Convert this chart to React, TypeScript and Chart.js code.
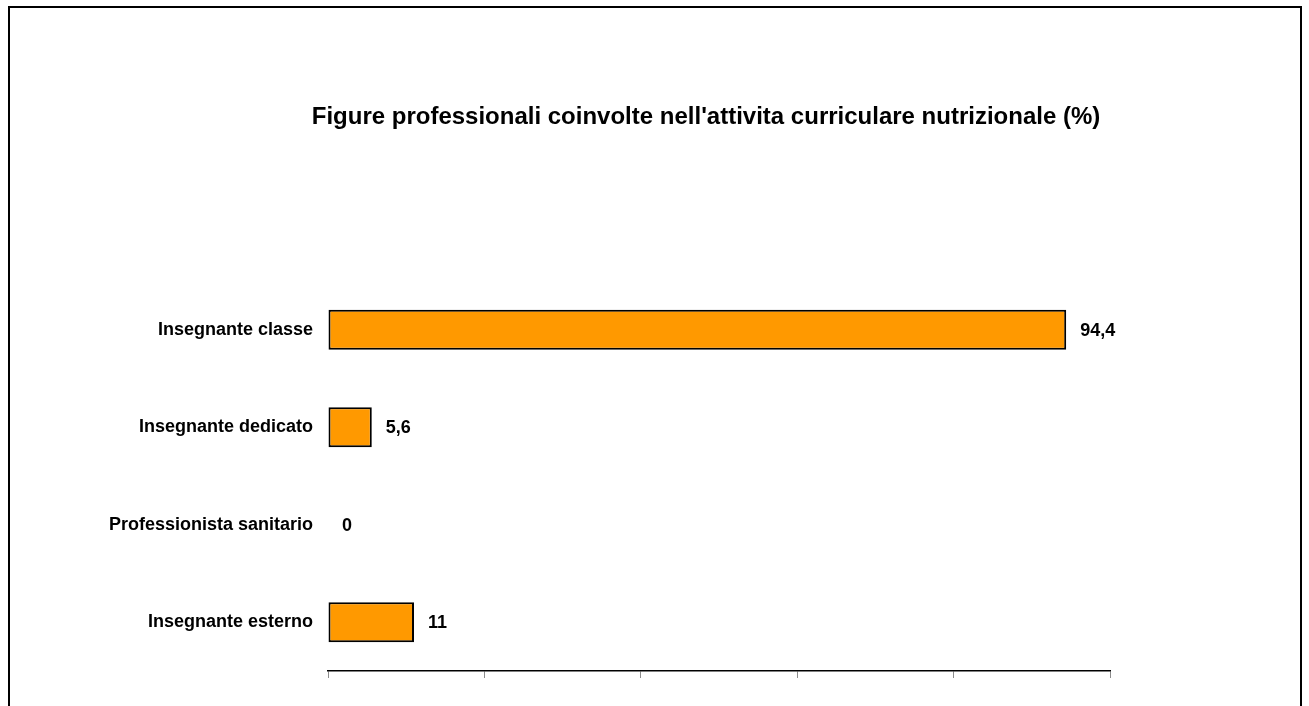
import React, { useEffect, useRef } from "react";
import { Chart, registerables } from "chart.js";

Chart.register(...registerables);

const categories = [
  "Insegnante classe",
  "Insegnante dedicato",
  "Professionista sanitario",
  "Insegnante esterno",
];
const values = [94.4, 5.6, 0, 11];
const xTicks = [0, 20, 40, 60, 80, 100];
const titleText =
  "Figure professionali coinvolte nell'attivita curriculare nutrizionale (%)";

const FONT = "'Liberation Sans', Arial, Helvetica, sans-serif";

export default function App() {
  const ref = useRef<HTMLCanvasElement | null>(null);

  useEffect(() => {
    if (!ref.current) return;
    const titlePlugin = {
      id: "customTitle",
      afterDraw(chart: any) {
        const ctx = chart.ctx;
        ctx.save();
        ctx.font = `bold 24px ${FONT}`;
        ctx.fillStyle = "#000";
        ctx.textAlign = "center";
        ctx.textBaseline = "alphabetic";
        ctx.fillText(titleText, 696, 116);
        ctx.restore();
      },
    };
    const labelPlugin = {
      id: "valueLabels",
      afterDatasetsDraw(chart: any) {
        const ctx = chart.ctx;
        const meta = chart.getDatasetMeta(0);
        ctx.save();
        ctx.font = `bold 18px ${FONT}`;
        ctx.fillStyle = "#000";
        ctx.textAlign = "left";
        ctx.textBaseline = "middle";
        meta.data.forEach((bar: any, i: number) => {
          const v = values[i];
          ctx.fillText(String(v).replace(".", ","), bar.x + 14, bar.y + 1);
        });
        ctx.restore();
      },
    };
    const chart = new Chart(ref.current, {
      type: "bar",
      data: {
        labels: categories,
        datasets: [
          {
            data: values,
            backgroundColor: "#FF9900",
            borderColor: "#000000",
            borderWidth: 2,
            borderSkipped: false,
            barPercentage: 0.41,
            categoryPercentage: 1,
          },
        ],
      },
      options: {
        indexAxis: "y",
        animation: false,
        responsive: true,
        maintainAspectRatio: false,
        layout: { padding: { top: 273, right: 190, left: 0, bottom: 83 } },
        plugins: {
          legend: { display: false },
          title: { display: false },
          tooltip: { enabled: false },
        },
        scales: {
          x: {
            min: 0,
            max: 100,
            afterBuildTicks(scale: any) {
              scale.ticks = xTicks.map((v) => ({ value: v }));
            },
            afterFit(scale: any) {
              scale.height = 10;
            },
            ticks: { display: false },
            grid: {
              display: true,
              drawOnChartArea: false,
              drawTicks: true,
              tickLength: 7,
              color: "#8c8c8c",
              lineWidth: 1,
            },
            border: { display: true, color: "#000000", width: 1.5 },
          },
          y: {
            afterFit(scale: any) {
              scale.width = 318;
            },
            grid: { display: false, drawTicks: false },
            border: { display: false },
            ticks: {
              padding: 15,
              color: "#000",
              font: { family: FONT, size: 18, weight: "bold" },
            },
          },
        },
      },
      plugins: [titlePlugin, labelPlugin],
    });
    return () => chart.destroy();
  }, []);

  return (
    <div
      style={{
        position: "absolute",
        left: 8,
        top: 6,
        width: 1294,
        height: 760,
        border: "2px solid #000",
        boxSizing: "border-box",
        background: "#fff",
      }}
    >
      <div style={{ position: "relative", width: 1290, height: 756 }}>
        <canvas ref={ref} />
      </div>
    </div>
  );
}
